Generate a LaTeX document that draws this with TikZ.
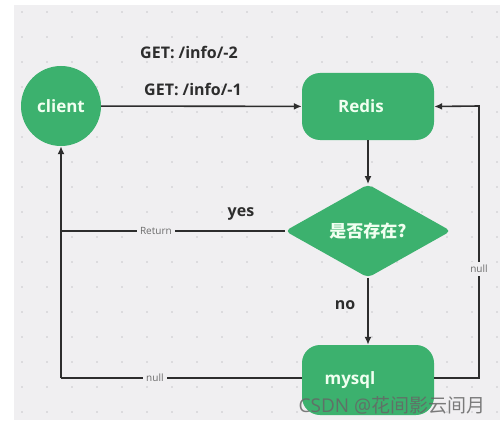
\documentclass[tikz,border=0pt]{standalone}
\usepackage{fontspec}
\setmainfont{Open Sans}
\newfontfamily\cjk{Noto Sans CJK SC}
\usetikzlibrary{shapes.geometric,arrows.meta}
\definecolor{fgreen}{RGB}{60,177,110}
\definecolor{panel}{RGB}{240,239,241}
\definecolor{ink}{RGB}{45,45,45}
\definecolor{dotc}{RGB}{200,200,204}
\tikzset{
  gnode/.style={fill=fgreen, text=white!94!green, font=\fontsize{17}{19}\selectfont\bfseries, inner sep=0pt},
  boxn/.style={gnode, rectangle, rounded corners=18pt, minimum width=132pt},
  wire/.style={draw=ink, line width=1.6pt},
  arr/.style={wire, -{Latex[length=8pt,width=7pt]}},
  tag/.style={fill=panel, text=gray!85!black, font=\fontsize{10}{11}\selectfont, inner sep=3pt},
  big/.style={text=ink, font=\fontsize{16}{18}\selectfont\bfseries},
}
\begin{document}
\begin{tikzpicture}[x=1pt,y=-1pt]
\useasboundingbox (0,0) rectangle (500,425);
\fill[white] (0,0) rectangle (500,425);
\fill[panel] (14,5) rectangle (500,420);
\foreach \i in {0,...,19} {\foreach \j in {0,...,16} {
  \fill[dotc] (22+25*\i,12+25*\j) circle (0.9pt);}}
% nodes
\node[gnode, circle, minimum size=80pt] (client) at (61,106) {client};
\node[boxn, minimum height=67pt] (redis) at (368,106.5) {\hspace*{-14pt}Redis};
\node[gnode, diamond, minimum width=166pt, minimum height=71pt, rounded corners=5pt] (q) at (368,231) {\cjk 是否存在?};
\node[boxn, minimum height=70pt] (mysql) at (368,380) {\hspace*{-36pt}\raisebox{2pt}{mysql}};
\coordinate (c1) at (61,231);
\coordinate (c2) at (61,378);
\coordinate (c3) at (479,378);
\coordinate (c4) at (479,106);
% text labels
\node[big] (g2) at (189,52) {GET: /info/-2};
\node[big] (g1) at (193,89) {GET: /info/-1};
\node[big] (yes) at (241,214) {yes};
\node[big] (no) at (345,305) {no};
% connectors
\draw[arr] (client) -- (redis);
\draw[arr] (redis) -- (q);
\draw[arr] (q) -- (mysql);
\draw[wire] (q.west) -- node[tag, pos=0.576] {Return} (c1);
\draw[arr] (c2) -- (client);
\draw[wire] (mysql.west |- c2) -- node[tag, pos=0.61] {null} (c2);
\draw[arr] (mysql.east |- c3) -- (c3) -- node[tag, pos=0.4] {null} (c4) -- (redis.east);
% watermark
\node[text=gray!80!black, opacity=0.85, font=\fontsize{19}{21}\selectfont] (wm) at (392,405) {CSDN @{\cjk 花间影云间月}};
\end{tikzpicture}
\end{document}
